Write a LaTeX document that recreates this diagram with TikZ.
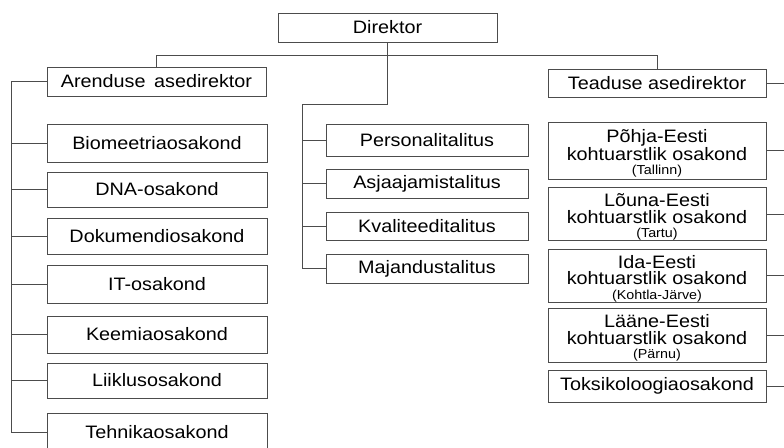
\documentclass[tikz,border=0pt]{standalone}
\usepackage{fontspec}
\setmainfont{Liberation Sans}[FakeStretch=1.1]
% first line of a three-line box, with a taller strut so the block sits lower
\newcommand{\firstline}[1]{\rule{0pt}{19pt}#1}
\newcommand{\placeline}[1]{\\[-2pt]{\fontsize{13}{14}\selectfont #1}}
\begin{document}
\begin{tikzpicture}[x=1pt,y=-1pt,
  box/.style={draw=black!70, line width=1pt, rectangle, inner sep=0pt,
    minimum height=#1, text=black, align=center,
    font=\fontsize{18}{16.5}\selectfont},
  box/.default=30pt,
  leftbox/.style={box=#1, minimum width=220pt},
  midbox/.style={box=#1, minimum width=202pt},
  rightbox/.style={box=#1, minimum width=218pt},
  link/.style={draw=black!70, line width=1pt}]
\useasboundingbox[fill=white] (0,0) rectangle (784,447);

% top level
\node[box=29pt, minimum width=219pt] (dir) at (387.5,27.5) {Direktor};
\node[box=29pt, minimum width=219pt] (aren) at (156.5,81.5) {Arenduse\, asedirektor};
\node[box=28pt, minimum width=218pt] (tead) at (657,83) {Teaduse asedirektor};

% departments under the development deputy
\node[leftbox=38pt] (bio) at (157,143) {Biomeetriaosakond};
\node[leftbox=35pt] (dna) at (157,189.5) {DNA-osakond};
\node[leftbox=36pt] (dok) at (157,236) {Dokumendiosakond};
\node[leftbox=38pt] (it)  at (157,284) {IT-osakond};
\node[leftbox=37pt] (kee) at (157,334.5) {Keemiaosakond};
\node[leftbox=35pt] (lii) at (157,380.5) {Liiklusosakond};
\node[leftbox=39pt] (teh) at (157,432.5) {Tehnikaosakond};

% offices under the director
\node[midbox=32pt] (per) at (427,140) {Personalitalitus};
\node[midbox=29pt] (asj) at (427,183.5) {Asjaajamistalitus};
\node[midbox=28pt] (kva) at (427,226) {Kvaliteeditalitus};
\node[midbox=29pt] (maj) at (427,268.5) {Majandustalitus};

% departments under the research deputy
\node[rightbox=57pt] (pohja) at (657,150.5) {\firstline{Põhja-Eesti}\\kohtuarstlik osakond\placeline{(Tallinn)}};
\node[rightbox=52pt] (louna) at (657,214) {\firstline{Lõuna-Eesti}\\kohtuarstlik osakond\placeline{(Tartu)}};
\node[rightbox=53pt] (ida)   at (657,275.5) {\firstline{Ida-Eesti}\\kohtuarstlik osakond\placeline{(Kohtla-Järve)}};
\node[rightbox=54pt] (laane) at (657,335) {\firstline{Lääne-Eesti}\\kohtuarstlik osakond\placeline{(Pärnu)}};
\node[rightbox=32pt] (toks)  at (657,386) {Toksikoloogiaosakond};

% trunk positions
\coordinate (bar) at (0,55);
\coordinate (midbend) at (302,104);
\coordinate (ltrunk) at (11,0);
\coordinate (rtrunk) at (792,0);

% director to deputies
\draw[link] (aren.north) -- (aren.north |- bar) -- (tead.north |- bar) -- (tead.north);

% director to offices
\draw[link] (dir.south) |- (midbend) -- (midbend |- maj.west) -- (maj.west);
\foreach \n in {per,asj,kva}
  \draw[link] (midbend |- \n.west) -- (\n.west);

% development deputy to departments
\draw[link] (aren.west) -- (ltrunk |- aren.west) -- (ltrunk |- teh.west) -- (teh.west);
\foreach \n in {bio,dna,dok,it,kee,lii}
  \draw[link] (ltrunk |- \n.west) -- (\n.west);

% research deputy branches
\foreach \n in {tead,pohja,louna,ida,laane,toks}
  \draw[link] (\n.east) -- (rtrunk |- \n.east);
\end{tikzpicture}
\end{document}
